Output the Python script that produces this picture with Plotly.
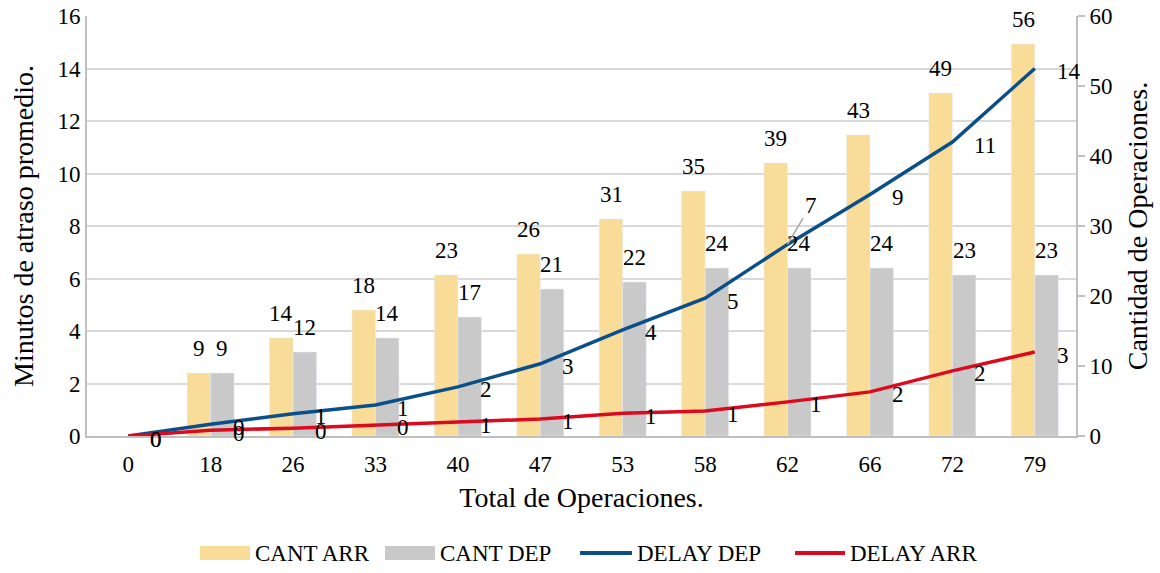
import plotly.graph_objects as go

# Total operations per bucket (category axis)
categories = ["0", "18", "26", "33", "40", "47", "53", "58", "62", "66", "72", "79"]

# Operation counts (right axis)
cant_arr = [None, 9, 14, 18, 23, 26, 31, 35, 39, 43, 49, 56]
cant_dep = [None, 9, 12, 14, 17, 21, 22, 24, 24, 24, 23, 23]

# Average delay in minutes (left axis)
delay_dep = [0, 0.45, 0.85, 1.18, 1.87, 2.75, 4.04, 5.25, 7.3, 9.2, 11.2, 14.0]
delay_arr = [0, 0.22, 0.3, 0.42, 0.53, 0.65, 0.87, 0.95, 1.3, 1.68, 2.48, 3.2]

FONT = "Liberation Serif, Times New Roman, serif"
FS = 23
COL_ARR = "#F9DC98"
COL_DEP = "#C9C9C9"
COL_LDEP = "#0B4F88"
COL_LARR = "#DC0A1E"
AXIS_GREY = "#BFBFBF"

W, H = 1160, 573
ML, MR, MT, MB = 87, 84, 16, 137
PW, PH = W - ML - MR, H - MT - MB


def px_x(p):
    return (p - ML) / PW


def px_y(p):
    return (H - MB - p) / PH


fig = go.Figure()

fig.add_trace(go.Bar(x=categories, y=cant_arr, name="CANT ARR",
                     marker_color=COL_ARR, yaxis="y", showlegend=False))
fig.add_trace(go.Bar(x=categories, y=cant_dep, name="CANT DEP",
                     marker_color=COL_DEP, yaxis="y", showlegend=False))
fig.add_trace(go.Scatter(x=categories, y=delay_dep, name="DELAY DEP", mode="lines",
                         line=dict(color=COL_LDEP, width=3.5), yaxis="y2",
                         cliponaxis=False, showlegend=False))
fig.add_trace(go.Scatter(x=categories, y=delay_arr, name="DELAY ARR", mode="lines",
                         line=dict(color=COL_LARR, width=3.5), yaxis="y2",
                         cliponaxis=False, showlegend=False))

annotations = []

# value labels above the bars (x given as category index on the category axis)
BAR_OFF = 11.7
for vals, dx in ((cant_arr, -BAR_OFF), (cant_dep, BAR_OFF)):
    for i, v in enumerate(vals):
        if v is None:
            continue
        annotations.append(dict(x=i, y=v, xref="x", yref="y", text=f"{v:.0f}",
                                showarrow=False, xshift=dx, yshift=25,
                                yanchor="middle", xanchor="center"))

# value labels to the right of the line points
for vals in (delay_dep, delay_arr):
    for i, v in enumerate(vals):
        if vals is delay_dep and i == 8:
            annotations.append(dict(x=i, y=v, xref="x", yref="y2", text=f"{v:.0f}",
                                    showarrow=True, arrowhead=0, arrowwidth=1.5,
                                    arrowcolor="#A6A6A6", ax=23, ay=-39))
            continue
        annotations.append(dict(x=i, y=v, xref="x", yref="y2", text=f"{v:.0f}",
                                showarrow=False, xshift=20, yshift=-3,
                                xanchor="left", yanchor="middle"))

# legend row under the x axis title
shapes = []
LEG_Y = 553
legend_items = [
    ("CANT ARR", COL_ARR, "box", 200, 250),
    ("CANT DEP", COL_DEP, "box", 385, 435),
    ("DELAY DEP", COL_LDEP, "line", 580, 632),
    ("DELAY ARR", COL_LARR, "line", 795, 845),
]
for name, col, kind, x0, x1 in legend_items:
    if kind == "box":
        shapes.append(dict(type="rect", xref="paper", yref="paper",
                           x0=px_x(x0), x1=px_x(x1), y0=px_y(LEG_Y + 7), y1=px_y(LEG_Y - 7),
                           fillcolor=col, line=dict(width=0)))
    else:
        shapes.append(dict(type="line", xref="paper", yref="paper",
                           x0=px_x(x0), x1=px_x(x1), y0=px_y(LEG_Y), y1=px_y(LEG_Y),
                           line=dict(color=col, width=4)))
    annotations.append(dict(x=px_x(x1 + 3), y=px_y(LEG_Y), xref="paper", yref="paper",
                            text=name, showarrow=False, xanchor="left", yanchor="middle"))

fig.update_layout(
    width=W, height=H,
    margin=dict(l=ML, r=MR, t=MT, b=MB),
    paper_bgcolor="white", plot_bgcolor="white",
    font=dict(family=FONT, size=FS, color="black"),
    barmode="group", bargap=0.43, bargroupgap=0,
    showlegend=False,
    annotations=annotations,
    shapes=shapes,
    xaxis=dict(
        type="category", range=[-0.5, len(categories) - 0.5], autorange=False,
        showgrid=False, showline=True, linecolor=AXIS_GREY, linewidth=2,
        ticks="", ticklabelstandoff=6, automargin=False,
        title=dict(text="Total de Operaciones.", standoff=12),
    ),
    yaxis=dict(
        side="right", range=[0, 60], autorange=False, dtick=10, showgrid=False,
        showline=True, linecolor=AXIS_GREY, linewidth=2,
        ticks="outside", ticklen=7, tickcolor=AXIS_GREY, tickwidth=2,
        title=dict(text="Cantidad de Operaciones.", standoff=16),
        zeroline=False, automargin=False,
    ),
    yaxis2=dict(
        side="left", overlaying="y", range=[0, 16], autorange=False, dtick=2,
        showgrid=True, gridcolor="#D9D9D9", gridwidth=2,
        showline=True, linecolor=AXIS_GREY, linewidth=2,
        ticks="", zeroline=False, automargin=False,
        title=dict(text="Minutos de atraso promedio.", standoff=16),
    ),
)

fig.write_html("out.html")
